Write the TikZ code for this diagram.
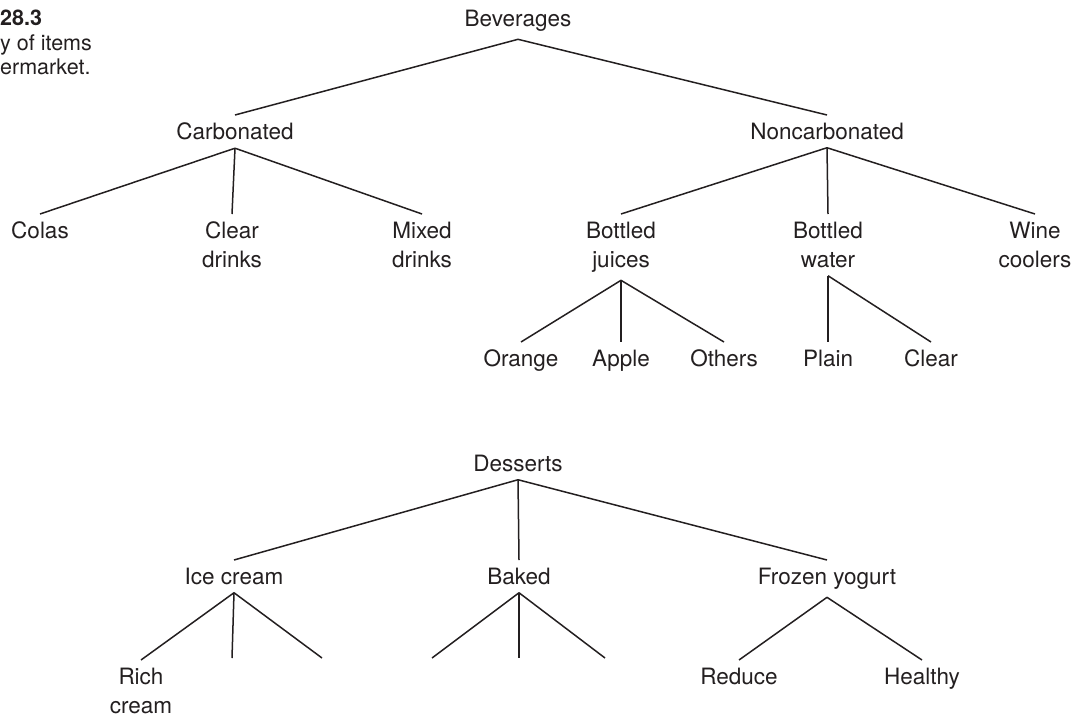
\documentclass[tikz,border=0pt]{standalone}
\usepackage{fontspec}
\setmainfont{TeX Gyre Heros}
\definecolor{ink}{HTML}{231F20}

\begin{document}
\begin{tikzpicture}[x=1pt,y=-1pt,
    item/.style={anchor=north,inner sep=0pt,outer ysep=8pt,align=center,text=ink,font=\fontsize{22.5}{29}\selectfont},
    branch/.style={draw=ink,line width=1.5pt}]
    \useasboundingbox (0,0) rectangle (1083,714);
    \node[anchor=north west,inner sep=0pt,align=left,text=ink,font=\fontsize{21.5}{24.5}\selectfont] (caption) at (0,10) {\textbf{28.3}\\y of items\\ermarket.};
    \node[item] (bev) at (518,2) {Beverages};
    \node[item] (carb) at (235,115) {Carbonated};
    \node[item] (noncarb) at (827,115) {Noncarbonated};
    \node[item] (colas) at (40,214) {Colas};
    \node[item] (cleardr) at (232,214) {Clear\\drinks};
    \node[item] (mixed) at (422,214) {Mixed\\drinks};
    \node[item] (juices) at (621,214) {Bottled\\juices};
    \node[item] (water) at (828,214) {Bottled\\water};
    \node[item] (wine) at (1035,214) {Wine\\coolers};
    \node[item] (orange) at (521,342) {Orange};
    \node[item] (apple) at (621,342) {Apple};
    \node[item] (others) at (724,342) {Others};
    \node[item] (plain) at (828,342) {Plain};
    \node[item] (clear) at (931,342) {Clear};
    \node[item] (dess) at (518,447) {Desserts};
    \node[item] (ice) at (234,560) {Ice cream};
    \node[item] (baked) at (519,560) {Baked};
    \node[item] (frozen) at (827,560) {Frozen yogurt};
    \node[item] (rich) at (141,660) {Rich\\cream};
    \node[item] (reduce) at (739,660) {Reduce};
    \node[item] (healthy) at (922,660) {Healthy};
    \coordinate (ice2) at (232,658);
    \coordinate (ice3) at (322,658);
    \coordinate (baked1) at (432,658);
    \coordinate (baked2) at (519,658);
    \coordinate (baked3) at (605,658);
    \draw[branch] (bev.south)--(carb.north);
    \draw[branch] (bev.south)--(noncarb.north);
    \draw[branch] (carb.south)--(colas.north);
    \draw[branch] (carb.south)--(cleardr.north);
    \draw[branch] (carb.south)--(mixed.north);
    \draw[branch] (noncarb.south)--(juices.north);
    \draw[branch] (noncarb.south)--(water.north);
    \draw[branch] (noncarb.south)--(wine.north);
    \draw[branch] (juices.south)--(orange.north);
    \draw[branch] (juices.south)--(apple.north);
    \draw[branch] (juices.south)--(others.north);
    \draw[branch] (water.south)--(plain.north);
    \draw[branch] (water.south)--(clear.north);
    \draw[branch] (dess.south)--(ice.north);
    \draw[branch] (dess.south)--(baked.north);
    \draw[branch] (dess.south)--(frozen.north);
    \draw[branch] (ice.south)--(rich.north);
    \draw[branch] (ice.south)--(ice2);
    \draw[branch] (ice.south)--(ice3);
    \draw[branch] (baked.south)--(baked1);
    \draw[branch] (baked.south)--(baked2);
    \draw[branch] (baked.south)--(baked3);
    \draw[branch] (frozen.south)--(reduce.north);
    \draw[branch] (frozen.south)--(healthy.north);
\end{tikzpicture}
\end{document}
